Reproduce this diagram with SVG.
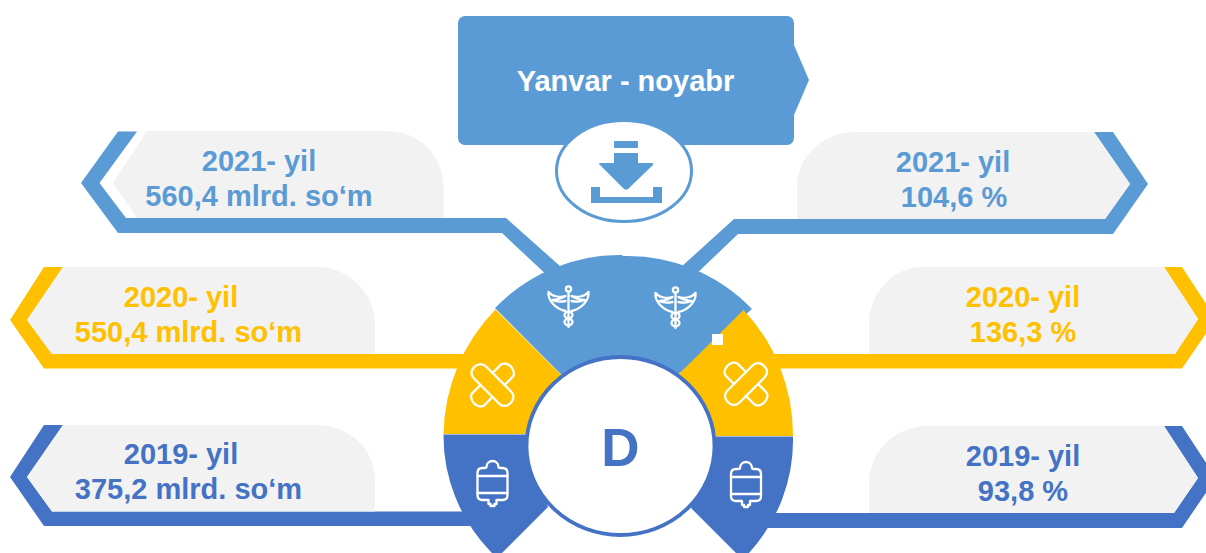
<svg xmlns="http://www.w3.org/2000/svg" width="1206" height="553" viewBox="0 0 1206 553">
<style>
.t{font-family:"Liberation Sans",Arial,sans-serif;font-weight:700;font-size:29px;text-anchor:middle}
.b{fill:#5B9BD5}.y{fill:#FFC000}.d{fill:#4472C4}.g{fill:#F2F2F2}
.tb{fill:#5B9BD5}.ty{fill:#FFC000}.td{fill:#4472C4}
.i{fill:none;stroke:#fff;stroke-width:2.300;stroke-linecap:round;stroke-linejoin:round}
</style>
<defs>
<g id="cad" class="i">
<circle cx="0" cy="3" r="2.600"/>
<path d="M0 6V41"/>
<path d="M-20 6C-17 10-9 12-3 10C-8 13-12 14-16 14C-12 16-8 16-3 15M-20 6C-21 14-13 23-3 25M20 6C17 10 9 12 3 10C8 13 12 14 16 14C12 16 8 16 3 15M20 6C21 14 13 23 3 25"/>
<ellipse cx="0" cy="29" rx="4" ry="3.200"/>
<ellipse cx="0" cy="36" rx="4" ry="3.200"/>
</g>
<g id="ban" class="i">
<rect x="-25.500" y="-8.500" width="51" height="17" rx="7.500" transform="rotate(45)"/>
<path d="M8.500 -8.500H20C23.500 -8.500 26 -4 26 0C26 4 23.500 8.500 20 8.500H8.500M-8.500 -8.500H-20C-23.500 -8.500 -26 -4 -26 0C-26 4 -23.500 8.500 -20 8.500H-8.500" transform="rotate(-45)"/>
</g>
<g id="bag" class="i">
<path d="M-6 7C-6 3-3 1 0 1C3 1 6 3 6 7C6 8 7 8 8 8H10C13 8 15 10 15 13V35C15 38 13 40 10 40H4V44H2V46H-2V44H-4V40H-10C-13 40-15 38-15 35V13C-15 10-13 8-10 8H-8C-7 8-6 8-6 7Z"/>
<path d="M-15 16H15M-15 33H15"/>
</g>
</defs>

<g id="connectors">
<polygon class="b" points="118,131.500 137,131.500 99.500,183 126,218 506,218 570,275 552,280 502,233 118,233 81,183"/>
<polygon class="b" points="1113,132 1094,132 1130,184 1105,219 734,219 670,277 690,280 738,234 1113,234 1148,184"/>
<polygon class="y" points="44,267 63,267 27,320 52,354 470,354 470,368.500 44,368.500 10,320"/>
<polygon class="y" points="1164,267 1182,267 1216,319 1182,368.500 770,368.500 770,354 1175,354 1198,319"/>
<polygon class="d" points="44,425 63,425 27,477 52,511.500 480,511.500 480,526 44,526 10,477"/>
<polygon class="d" points="1164,426 1182,426 1216,478 1182,528 750,528 750,513 1174,513 1198,478"/>
</g>

<g id="node-left-2021">
<path class="g" d="M113,183L147,131H388A55.500 56 0 0 1 443.500,187V218H137Z"/>
<text class="t tb" x="259" y="171">2021- yil</text>
<text class="t tb" x="259" y="206">560,4 mlrd. so‘m</text>
</g>
<g id="node-left-2020">
<path class="g" d="M27,320L63,267H317A58 58 0 0 1 375,325V354H52Z"/>
<text class="t ty" x="181" y="307">2020- yil</text>
<text class="t ty" x="188.500" y="342">550,4 mlrd. so‘m</text>
</g>
<g id="node-left-2019">
<path class="g" d="M27,477L63,425H317A58 55 0 0 1 375,480V511.500H52Z"/>
<text class="t td" x="181" y="464">2019- yil</text>
<text class="t td" x="188.500" y="499">375,2 mlrd. so‘m</text>
</g>
<g id="node-right-2021">
<path class="g" d="M1130,184L1094,132H855A58 55 0 0 0 797,187V219H1105Z"/>
<text class="t tb" x="953" y="172">2021- yil</text>
<text class="t tb" x="954" y="207">104,6 %</text>
</g>
<g id="node-right-2020">
<path class="g" d="M1198,319L1164,267H923A54 57 0 0 0 869,324V354H1175Z"/>
<text class="t ty" x="1023" y="307">2020- yil</text>
<text class="t ty" x="1023" y="342">136,3 %</text>
</g>
<g id="node-right-2019">
<path class="g" d="M1198,478L1164,426H928A59 57 0 0 0 869,483V513H1174Z"/>
<text class="t td" x="1023" y="466">2019- yil</text>
<text class="t td" x="1023" y="501">93,8 %</text>
</g>

<g id="node-period">
<path class="b" d="M465,16H787A7 7 0 0 1 794,23V45L809,80L794,115V138A7 7 0 0 1 787,145H465A7 7 0 0 1 458,138V23A7 7 0 0 1 465,16Z"/>
<text x="625.500" y="91" style="font-family:'Liberation Sans',Arial,sans-serif;font-weight:700;font-size:29px;text-anchor:middle;fill:#fff">Yanvar - noyabr</text>
</g>
<g id="node-download">
<ellipse cx="624" cy="171" rx="67.500" ry="50.500" fill="#fff" stroke="#5B9BD5" stroke-width="3"/>
<rect class="b" x="614" y="141" width="24" height="7" rx="1"/>
<path class="b" d="M614,153H638V163H652Q654,163 653,165L628,189Q626,190 624,189L600,165Q598,163 600,163H614Z"/>
<path class="b" d="M591,187H600V197H653V187H662V203H591Z"/>
</g>

<g id="node-wheel">
<path class="b" d="M495,308A175 180 0 0 1 622,255L623,256A175 180 0 0 1 752,309L680,373L620,400L560.700,374Z"/>
<path class="y" d="M495.500,309.500L560.700,374.500L600,420L526,434H443.500A175 180 0 0 1 495.500,309.500Z"/>
<path class="y" d="M743.500,310L680,373L640,420L716,436H793A175 180 0 0 0 743.500,310Z"/>
<path class="d" d="M443.500,434.500H540V480L548,507L497,558L490,551A175 170 0 0 1 443.500,434.500Z"/>
<path class="d" d="M793,436.500H700V480L691,508L741,558L749,553A175 170 0 0 0 793,436.500Z"/>
<rect x="712" y="334" width="11" height="11" fill="#fff"/>
<ellipse cx="620.500" cy="446" rx="94" ry="89" fill="#fff" stroke="#4472C4" stroke-width="3.800"/>
<text x="620.500" y="466" style="font-family:'Liberation Sans',Arial,sans-serif;font-weight:700;font-size:53px;text-anchor:middle;fill:#4472C4">D</text>
<use href="#cad" x="568.500" y="286"/>
<use href="#cad" x="675.500" y="287"/>
<use href="#ban" x="492.500" y="385"/>
<use href="#ban" transform="translate(746 384) scale(-1 1)"/>
<use href="#bag" x="492.500" y="460"/>
<use href="#bag" x="746" y="461"/>
</g>
</svg>
